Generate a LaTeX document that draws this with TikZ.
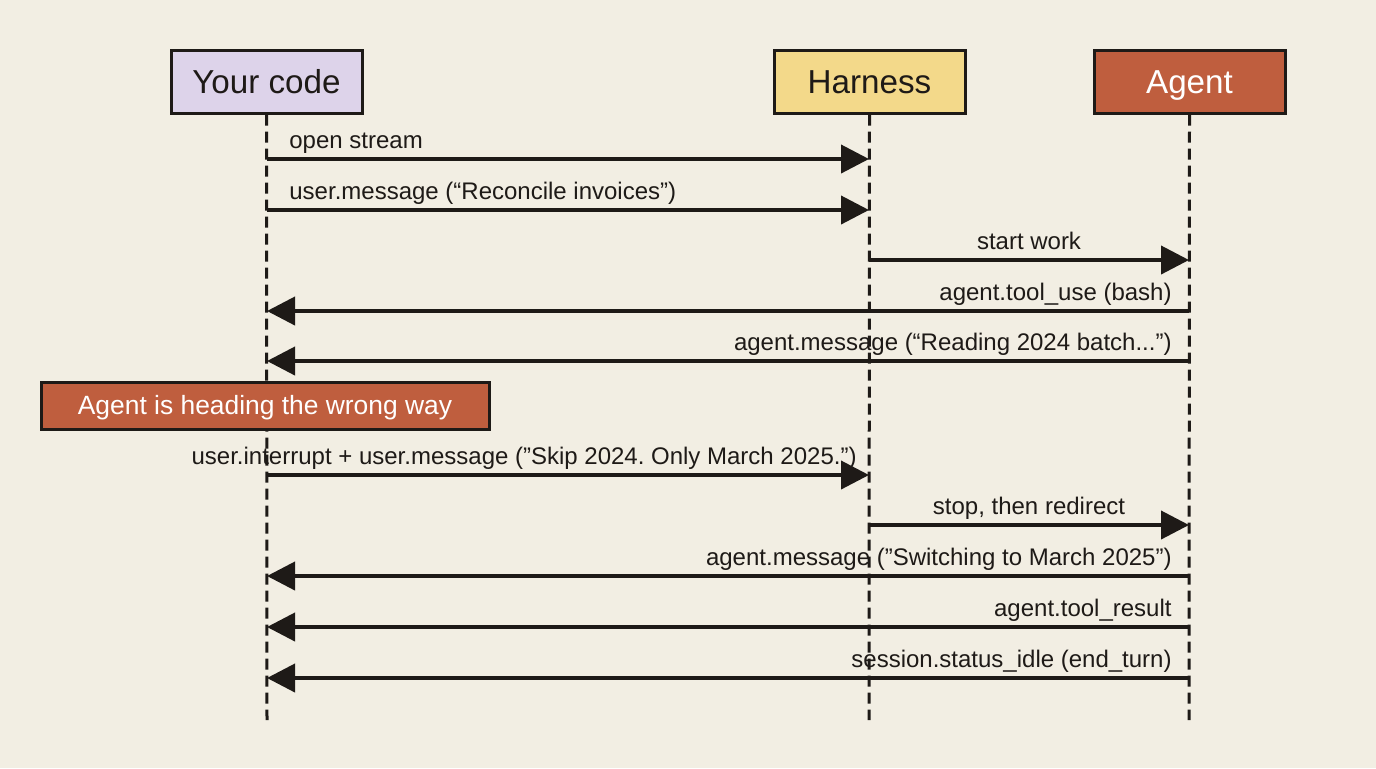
\documentclass[tikz,border=0pt]{standalone}
\usepackage{fontspec}
\setmainfont{Liberation Sans}
\usetikzlibrary{arrows.meta}
\definecolor{bg}{HTML}{F2EEE3}
\definecolor{ink}{HTML}{1E1A17}
\definecolor{lilac}{HTML}{DDD3EA}
\definecolor{sand}{HTML}{F3D98A}
\definecolor{rust}{HTML}{BF5E3E}
\newcommand{\dq}{\char"22\relax}
\tikzset{
  actor/.style={draw=ink, line width=1.5pt, minimum width=95.5pt, minimum height=31.5pt, inner sep=0pt, font=\fontsize{16.6}{18}\selectfont, text=ink, text height=11.9pt, text depth=0pt},
  life/.style={draw=ink, line width=1.5pt, dash pattern=on 5.5pt off 3pt},
  msg/.style={draw=ink, line width=2pt, -{Triangle[length=14pt,width=14pt]}},
  lbl/.style={font=\fontsize{12}{14}\selectfont, text=ink, inner sep=0pt},
  note/.style={draw=ink, line width=1.5pt, fill=rust, text=white, minimum width=224pt, minimum height=23.5pt, inner sep=0pt, font=\fontsize{13.2}{15}\selectfont, text height=9.45pt, text depth=0pt}
}
\begin{document}
\frenchspacing
\begin{tikzpicture}[x=0.5pt,y=-0.5pt]
\fill[bg] (0,0) rectangle (1376,768);
\useasboundingbox (0,0) rectangle (1376,768);
% actors
\node[actor, fill=lilac] (code) at (266.5,81.5) {Your code};
\node[actor, fill=sand] (harness) at (869.5,81.5) {Harness};
\node[actor, fill=rust, text=white] (agent) at (1189.5,81.5) {Agent};
% lifeline ends
\coordinate (codeEnd) at (267,720);
\coordinate (harnessEnd) at (869,720);
\coordinate (agentEnd) at (1189,720);
\draw[life] (code.south) -- (codeEnd);
\draw[life] (harness.south) -- (harnessEnd);
\draw[life] (agent.south) -- (agentEnd);
% row coordinates
\foreach \n/\y in {1/159,2/210,3/260,4/311,5/361,6/475,7/525,8/576,9/627,10/678}{
  \coordinate (Y\n) at (267,\y);
  \coordinate (H\n) at (869,\y);
  \coordinate (A\n) at (1189,\y);
}
% messages
\draw[msg] (Y1) -- (H1);
\node[lbl, anchor=base west] (l1) at (289,148) {open stream};
\draw[msg] (Y2) -- (H2);
\node[lbl, anchor=base west] (l2) at (289,199) {user.message (“Reconcile invoices”)};
\draw[msg] (H3) -- (A3);
\node[lbl, anchor=base] (l3) at (1029,249) {start work};
\draw[msg] (A4) -- (Y4);
\node[lbl, anchor=base east] (l4) at (1172,300) {agent.tool\_use (bash)};
\draw[msg] (A5) -- (Y5);
\node[lbl, anchor=base east] (l5) at (1172,350) {agent.message (“Reading 2024 batch...”)};
% note
\node[note] (wrong) at (265,405.5) {Agent is heading the wrong way};
\draw[msg] (Y6) -- (H6);
\node[lbl, anchor=base east] (l6) at (857,464) {user.interrupt + user.message (\dq Skip 2024. Only March 2025.\dq)};
\draw[msg] (H7) -- (A7);
\node[lbl, anchor=base] (l7) at (1029,514) {stop, then redirect};
\draw[msg] (A8) -- (Y8);
\node[lbl, anchor=base east] (l8) at (1172,565) {agent.message (\dq Switching to March 2025\dq)};
\draw[msg] (A9) -- (Y9);
\node[lbl, anchor=base east] (l9) at (1172,616) {agent.tool\_result};
\draw[msg] (A10) -- (Y10);
\node[lbl, anchor=base east] (l10) at (1172,667) {session.status\_idle (end\_turn)};
\end{tikzpicture}
\end{document}
